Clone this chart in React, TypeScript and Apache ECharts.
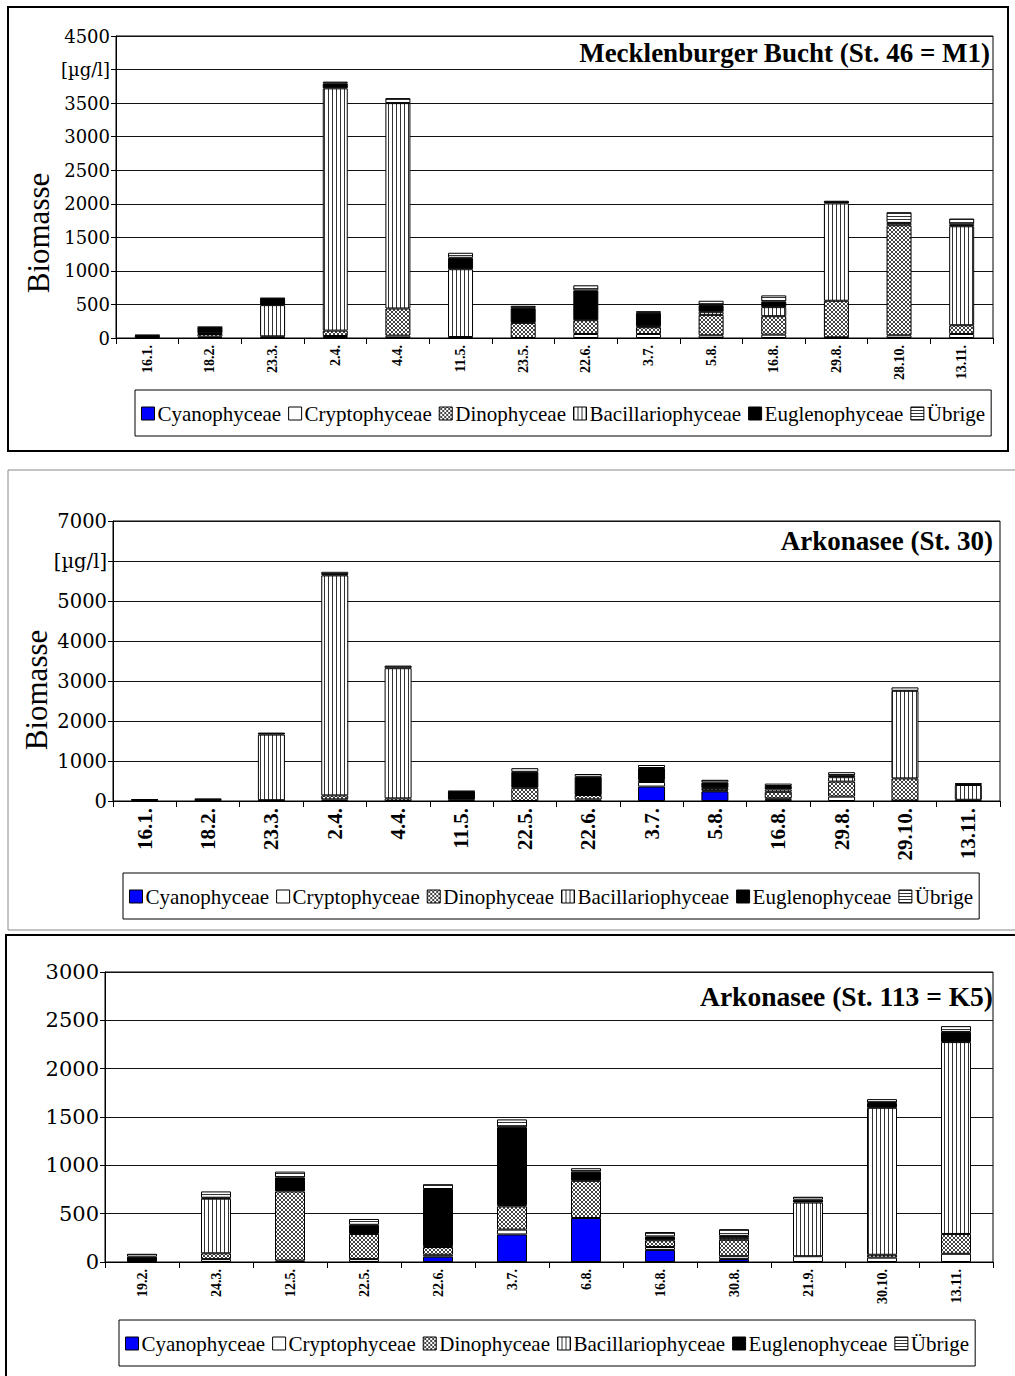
import React, { useEffect, useRef } from 'react';
import * as echarts from 'echarts';

const groups = ['Cyanophyceae', 'Cryptophyceae', 'Dinophyceae', 'Bacillariophyceae', 'Euglenophyceae', 'Übrige'];

// Panel 1: Mecklenburger Bucht (St. 46 = M1)
const m1Dates = ['16.1.', '18.2.', '23.3.', '2.4.', '4.4.', '11.5.', '23.5.', '22.6.', '3.7.', '5.8.', '16.8.', '29.8.', '28.10.', '13.11.'];
const m1Cyano = [0, 0, 0, 0, 0, 0, 0, 0, 0, 0, 0, 0, 0, 0];
const m1Crypto = [0, 20, 5, 30, 35, 15, 0, 60, 60, 40, 50, 10, 40, 60];
const m1Dino = [0, 40, 20, 80, 405, 0, 225, 205, 100, 305, 275, 545, 1640, 130];
const m1Bacil = [0, 10, 465, 3610, 3060, 1010, 0, 0, 15, 45, 135, 1450, 35, 1475];
const m1Eugleno = [40, 90, 100, 75, 0, 170, 220, 445, 200, 100, 85, 40, 0, 30];
const m1Uebrige = [5, 5, 5, 25, 75, 75, 35, 75, 25, 65, 90, 0, 160, 85];

// Panel 2: Arkonasee (St. 30)
const a30Dates = ['16.1.', '18.2.', '23.3.', '2.4.', '4.4.', '11.5.', '22.5.', '22.6.', '3.7.', '5.8.', '16.8.', '29.8.', '29.10.', '13.11.'];
const a30Cyano = [0, 0, 0, 0, 0, 0, 0, 0, 360, 240, 30, 0, 0, 0];
const a30Crypto = [0, 0, 10, 40, 0, 0, 0, 40, 115, 25, 35, 110, 10, 0];
const a30Dino = [0, 15, 10, 100, 65, 30, 330, 110, 50, 50, 165, 375, 555, 30];
const a30Bacil = [0, 0, 1640, 5500, 3255, 0, 0, 0, 0, 15, 60, 110, 2190, 370];
const a30Eugleno = [30, 50, 50, 30, 0, 210, 400, 455, 300, 135, 85, 50, 0, 25];
const a30Uebrige = [10, 0, 0, 60, 65, 10, 90, 70, 75, 65, 60, 75, 85, 15];

// Panel 3: Arkonasee (St. 113 = K5)
const k5Dates = ['19.2.', '24.3.', '12.5.', '22.5.', '22.6.', '3.7.', '6.8.', '16.8.', '30.8.', '21.9.', '30.10.', '13.11.'];
const k5Cyano = [0, 0, 0, 0, 55, 285, 455, 125, 30, 0, 0, 0];
const k5Crypto = [0, 30, 15, 30, 20, 50, 0, 30, 30, 60, 45, 85];
const k5Dino = [0, 60, 715, 260, 80, 240, 385, 70, 170, 0, 30, 205];
const k5Bacil = [0, 565, 0, 0, 10, 15, 0, 0, 20, 555, 1520, 1985];
const k5Eugleno = [55, 10, 145, 95, 590, 805, 95, 40, 20, 30, 50, 105];
const k5Uebrige = [30, 65, 60, 60, 50, 80, 35, 45, 70, 30, 40, 60];

const titles = ['Mecklenburger Bucht (St. 46 = M1)', 'Arkonasee (St. 30)', 'Arkonasee (St. 113 = K5)'];
const unitLabel = '[µg/l]';
const yName = 'Biomasse';

const SERIF = '"Liberation Serif", "Times New Roman", serif';
const WIDE_SERIF = '"DejaVu Serif", "Liberation Serif", serif';

function tile(kind: string): any {
  const c = document.createElement('canvas');
  let w = 4, h = 4;
  if (kind === 'uebrige') { w = 4; h = 3; }
  c.width = w; c.height = h;
  const ctx = c.getContext('2d')!;
  ctx.fillStyle = '#fff';
  ctx.fillRect(0, 0, w, h);
  if (kind === 'dino') {
    ctx.fillStyle = '#444';
    for (let i = 0; i < 4; i++) {
      ctx.fillRect(i, i, 1, 1);
      ctx.fillRect(3 - i, i, 1, 1);
    }
  } else if (kind === 'bacil') {
    ctx.fillStyle = '#333';
    ctx.fillRect(0, 0, 1, h);
  } else if (kind === 'uebrige') {
    ctx.fillStyle = '#333';
    ctx.fillRect(0, 0, w, 1);
  }
  return { image: c, repeat: 'repeat', imageWidth: w, imageHeight: h };
}

export default function App() {
  const ref = useRef<HTMLDivElement>(null);
  useEffect(() => {
    if (!ref.current) return;
    const chart = echarts.init(ref.current, undefined, { renderer: 'svg' });
    const fills: any[] = ['#0000ff', '#ffffff', tile('dino'), tile('bacil'), '#000000', tile('uebrige')];

    const panels = [
      {
        dates: m1Dates, vals: [m1Cyano, m1Crypto, m1Dino, m1Bacil, m1Eugleno, m1Uebrige],
        grid: { left: 116, top: 36, width: 877, height: 302 }, max: 4500, interval: 500, unitAt: 4000,
        barWidth: 25, xFont: 14, yFont: 18, legend: { left: 135, top: 390 },
        title: { x: 990, y: 53, size: 27 }, yname: { x: 38, y: 233 },
      },
      {
        dates: a30Dates, vals: [a30Cyano, a30Crypto, a30Dino, a30Bacil, a30Eugleno, a30Uebrige],
        grid: { left: 113, top: 521, width: 887, height: 280 }, max: 7000, interval: 1000, unitAt: 6000,
        barWidth: 27, xFont: 21, yFont: 19.5, legend: { left: 123, top: 873 },
        title: { x: 993, y: 541, size: 27 }, yname: { x: 36, y: 690 },
      },
      {
        dates: k5Dates, vals: [k5Cyano, k5Crypto, k5Dino, k5Bacil, k5Eugleno, k5Uebrige],
        grid: { left: 105, top: 972, width: 888, height: 290 }, max: 3000, interval: 500, unitAt: -1,
        barWidth: 30, xFont: 14, yFont: 21, legend: { left: 119, top: 1320 },
        title: { x: 993, y: 996, size: 27.5 }, yname: null,
      },
    ];

    const grid: any[] = [];
    const xAxis: any[] = [];
    const yAxis: any[] = [];
    const series: any[] = [];
    const legend: any[] = [];
    const graphic: any[] = [
      { type: 'rect', shape: { x: 8, y: 7, width: 1000, height: 444 }, style: { fill: 'transparent', stroke: '#000', lineWidth: 2 }, z: 0 },
      { type: 'rect', shape: { x: 8, y: 470, width: 1012, height: 460 }, style: { fill: 'transparent', stroke: '#888', lineWidth: 1 }, z: 0 },
      { type: 'rect', shape: { x: 6, y: 935, width: 1014, height: 445 }, style: { fill: 'transparent', stroke: '#000', lineWidth: 2 }, z: 0 },
    ];

    panels.forEach((p, i) => {
      grid.push({ ...p.grid, show: true, borderColor: '#000', borderWidth: 1, backgroundColor: 'transparent' });
      xAxis.push({
        type: 'category', gridIndex: i, data: p.dates,
        axisLine: { lineStyle: { color: '#000', width: 1 } },
        axisTick: { show: true, length: 6, lineStyle: { color: '#000' } },
        axisLabel: { rotate: 90, interval: 0, color: '#000', fontWeight: 'bold', fontSize: p.xFont, fontFamily: SERIF, margin: 7 },
      });
      yAxis.push({
        type: 'value', gridIndex: i, min: 0, max: p.max, interval: p.interval,
        axisLine: { show: true, lineStyle: { color: '#000', width: 1 } },
        axisTick: { show: true, length: 5, lineStyle: { color: '#000' } },
        splitLine: { show: true, lineStyle: { color: '#111', width: 1 } },
        axisLabel: {
          color: '#000', fontSize: p.yFont, fontFamily: WIDE_SERIF, margin: 6,
          formatter: (v: number) => (v === p.unitAt ? unitLabel : String(v)),
        },
      });
      groups.forEach((g, gi) => {
        series.push({
          type: 'bar', name: g, stack: 'panel' + i, xAxisIndex: i, yAxisIndex: i,
          barWidth: p.barWidth,
          data: p.vals[gi].map((v) => (v > 0 ? v : null)),
          itemStyle: { color: fills[gi], borderColor: '#000', borderWidth: 1 },
          emphasis: { disabled: true },
        });
      });
      legend.push({
        data: groups, left: p.legend.left, top: p.legend.top, orient: 'horizontal',
        itemWidth: 13, itemHeight: 13, itemGap: 7, icon: 'rect',
        padding: [13, 6, 12, 6], borderColor: '#000', borderWidth: 1, backgroundColor: '#fff',
        textStyle: { color: '#000', fontSize: 21, fontFamily: SERIF, padding: [0, 0, 0, -2] },
        itemStyle: { borderColor: '#000', borderWidth: 1 },
        selectedMode: false,
      });
      graphic.push({
        type: 'text', x: p.title.x, y: p.title.y, z: 10,
        style: { text: titles[i], fill: '#000', fontSize: p.title.size, fontWeight: 'bold', fontFamily: SERIF, align: 'right', verticalAlign: 'middle' },
      });
      if (p.yname) {
        graphic.push({
          type: 'text', x: p.yname.x, y: p.yname.y, rotation: Math.PI / 2, z: 10,
          style: { text: yName, fill: '#000', fontSize: 31, fontFamily: SERIF, align: 'center', verticalAlign: 'middle' },
        });
      }
    });

    chart.setOption({
      animation: false,
      backgroundColor: '#fff',
      grid, xAxis, yAxis, series, legend, graphic,
    });
    return () => chart.dispose();
  }, []);
  return <div ref={ref} style={{ position: 'fixed', left: 0, top: 0, width: 1015, height: 1376 }} />;
}
